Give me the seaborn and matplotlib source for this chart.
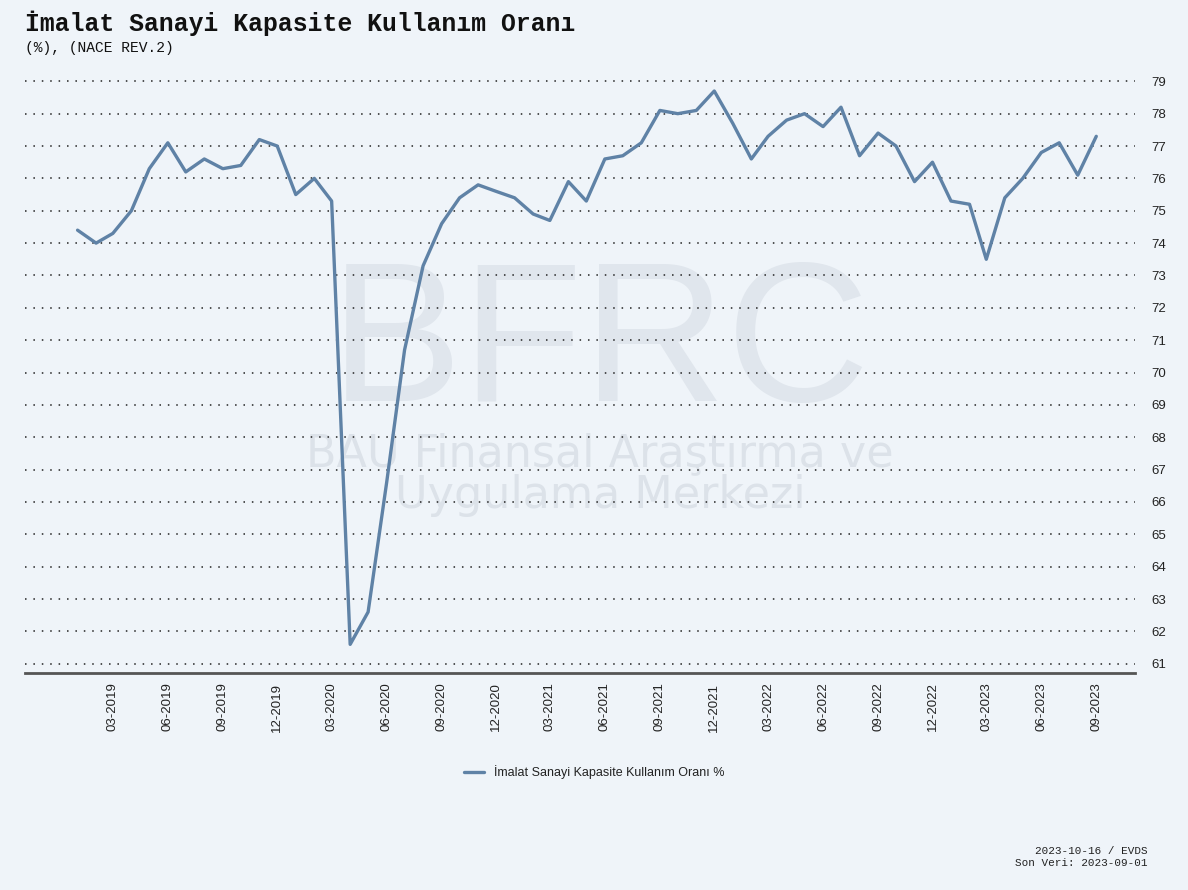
import pandas as pd
import matplotlib
matplotlib.use('Agg')
import matplotlib.pyplot as plt
import matplotlib.dates as mdates
import seaborn as sns

# monthly capacity utilisation, 01-2019 .. 09-2023
start_month = '2019-01-01'
kko_values = [
    74.4, 74.0, 74.3, 75.0, 76.3, 77.1, 76.2, 76.6, 76.3, 76.4, 77.2, 77.0,
    75.5, 76.0, 75.3, 61.6, 62.6, 66.6, 70.7, 73.3, 74.6, 75.4, 75.8, 75.6,
    75.4, 74.9, 74.7, 75.9, 75.3, 76.6, 76.7, 77.1, 78.1, 78.0, 78.1, 78.7,
    77.7, 76.6, 77.3, 77.8, 78.0, 77.6, 78.2, 76.7, 77.4, 77.0, 75.9, 76.5,
    75.3, 75.2, 73.5, 75.4, 76.0, 76.8, 77.1, 76.1, 77.3,
]
series_label = 'İmalat Sanayi Kapasite Kullanım Oranı %'
y_ticks = list(range(61, 80))

df = pd.DataFrame({
    'Tarih': pd.date_range(start_month, periods=len(kko_values), freq='MS'),
    'Deger': kko_values,
})
df['Seri'] = series_label

bg = '#eff4f9'
line_color = '#5f82a6'

sns.set_style('white')
plt.rcParams['font.family'] = ['Liberation Sans', 'DejaVu Sans']

fig = plt.figure(figsize=(11.88, 8.9), dpi=100, facecolor=bg)
ax = fig.add_axes([0.021, 0.244, 0.934, 0.677])
ax.set_facecolor('none')

# watermark
ax.text(0.505, 0.607, 'BFRC', transform=fig.transFigure, ha='center', va='center',
        fontsize=143, color='#e0e6ed', family='Liberation Sans', zorder=0.1)
ax.text(0.505, 0.467, 'BAU Finansal Araştırma ve\nUygulama Merkezi',
        transform=fig.transFigure, ha='center', va='center', fontsize=32,
        color='#dce2e9', family='DejaVu Sans', linespacing=0.95, zorder=0.1)

sns.lineplot(data=df, x='Tarih', y='Deger', hue='Seri', palette=[line_color],
             linewidth=2.4, ax=ax, zorder=3)

ax.set_ylim(60.72, 79.34)
ax.set_xlim(pd.Timestamp('2018-10-05'), pd.Timestamp('2023-11-04'))
ax.set_yticks(y_ticks)
ax.yaxis.tick_right()
ax.tick_params(axis='y', length=0, labelsize=9.5, labelcolor='#222222', pad=12)
ax.grid(axis='y', color='#222222', linestyle=(0, (1, 4.5)), linewidth=1.1)
ax.set_axisbelow(True)

tick_dates = pd.date_range('2019-03-01', '2023-09-01', freq='3MS')
ax.set_xticks(tick_dates)
ax.xaxis.set_major_formatter(mdates.DateFormatter('%m-%Y'))
ax.tick_params(axis='x', rotation=90, labelsize=9.5, labelcolor='#222222',
               length=4, width=1.2, color='#444444', direction='out', pad=3)
ax.set_xlabel('')
ax.set_ylabel('')

for side in ['top', 'left', 'right']:
    ax.spines[side].set_visible(False)
ax.spines['bottom'].set_color('#555555')
ax.spines['bottom'].set_linewidth(2)

leg = ax.legend(loc='center', bbox_to_anchor=(0.5, 0.132), bbox_transform=fig.transFigure,
                frameon=False, fontsize=9, handlelength=1.6, title=None)
for t in leg.get_texts():
    t.set_color('#222222')

fig.text(0.021, 0.974, 'İmalat Sanayi Kapasite Kullanım Oranı', ha='left', va='center',
         fontsize=17.8, fontweight='bold', family='Liberation Mono', color='#111111')
fig.text(0.021, 0.946, '(%), (NACE REV.2)', ha='left', va='center',
         fontsize=10.5, family='Liberation Mono', color='#111111')
fig.text(0.966, 0.037, '2023-10-16 / EVDS\nSon Veri: 2023-09-01', ha='right', va='center',
         fontsize=7.9, family='Liberation Mono', color='#222222', linespacing=1.3,
         multialignment='right')

fig.savefig('out.png', dpi=100, facecolor=bg)
